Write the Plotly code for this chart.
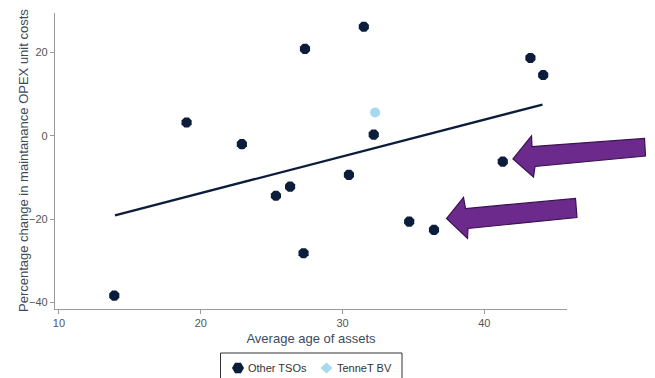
import plotly.graph_objects as go

# Average age of assets (years) and % change in maintenance OPEX unit costs
other_age = [13.9, 19.0, 22.9, 27.35, 25.3, 26.3, 27.25, 31.5, 32.2, 30.45,
             41.3, 43.25, 44.15, 34.7, 36.45]
other_chg = [-38.4, 3.2, -2.0, 20.9, -14.4, -12.2, -28.2, 26.2, 0.3, -9.4,
             -6.2, 18.7, 14.6, -20.6, -22.6]

tennet_age = [32.3]
tennet_chg = [5.6]

# Linear trend line end points
fit_age = [13.95, 44.1]
fit_chg = [-19.1, 7.5]

x_ticks = [10, 20, 30, 40]
y_ticks = [-40, -20, 0, 20]

legend_names = ["Other TSOs", "TenneT BV"]

W, H = 655, 378
ML, MR, MT, MB = 55, 88, 13, 69
PW, PH = W - ML - MR, H - MT - MB

NAVY = "#0b1d3a"
LIGHT = "#a6d8f2"
GREY_AXIS = "#9a9a9a"
TITLE_C = "#3d4a5c"
FONT = "Liberation Sans, Arial"


def px_x(px):
    return (px - ML) / PW


def px_y(py):
    return (H - MB - py) / PH


def poly_path(pts):
    return "M " + " L ".join(f"{px_x(x):.4f},{px_y(y):.4f}" for x, y in pts) + " Z"


# Callout arrows (pixel outlines: tip, head top, shaft top-left, shaft top-right,
# shaft bottom-right, shaft bottom-left, head bottom)
arrow_a = [(513, 159), (531.5, 136), (532, 146.5), (644.5, 138.5),
           (645.5, 156), (535, 166.5), (533.5, 177)]
arrow_b = [(446.5, 218.5), (463.5, 197.5), (465.5, 208.5), (575.5, 198.5),
           (577, 217.5), (468, 228.5), (467.5, 238.5)]

fig = go.Figure()

fig.add_trace(go.Scatter(
    x=fit_age, y=fit_chg, mode="lines",
    line=dict(color=NAVY, width=2.3),
    showlegend=False, hoverinfo="skip",
))
fig.add_trace(go.Scatter(
    x=other_age, y=other_chg, mode="markers", name=legend_names[0],
    marker=dict(symbol="octagon", size=11, color=NAVY, line=dict(width=0)),
    showlegend=False,
))
fig.add_trace(go.Scatter(
    x=tennet_age, y=tennet_chg, mode="markers", name=legend_names[1],
    marker=dict(symbol="circle", size=10, color=LIGHT, line=dict(width=0)),
    showlegend=False,
))

for pts in (arrow_a, arrow_b):
    fig.add_shape(
        type="path", path=poly_path(pts), xref="paper", yref="paper",
        fillcolor="#6b2a8c", line=dict(color="#3b1250", width=1.2),
        layer="above",
    )

# Legend box below the chart
fig.add_shape(
    type="rect", xref="paper", yref="paper",
    x0=px_x(220.5), x1=px_x(402), y0=px_y(392), y1=px_y(353),
    line=dict(color="#333333", width=1), fillcolor="white", layer="above",
)
ly = 368
hx, dx = 238, 326.5
hexagon = [(hx - 6, ly), (hx - 3, ly - 5.2), (hx + 3, ly - 5.2),
           (hx + 6, ly), (hx + 3, ly + 5.2), (hx - 3, ly + 5.2)]
diamond = [(dx - 6, ly), (dx, ly - 5.5), (dx + 6, ly), (dx, ly + 5.5)]
fig.add_shape(type="path", path=poly_path(hexagon), xref="paper", yref="paper",
              fillcolor=NAVY, line=dict(width=0), layer="above")
fig.add_shape(type="path", path=poly_path(diamond), xref="paper", yref="paper",
              fillcolor=LIGHT, line=dict(width=0), layer="above")
for name, tx in zip(legend_names, (245.5, 335)):
    fig.add_annotation(
        text=name, xref="paper", yref="paper", x=px_x(tx), y=px_y(ly),
        xanchor="left", yanchor="middle", showarrow=False,
        font=dict(family=FONT, size=11, color="#333333"),
    )

# Vertical axis title
fig.add_annotation(
    text="Percentage change in maintanance OPEX unit costs",
    xref="paper", yref="paper", x=px_x(23), y=px_y(161),
    xanchor="center", yanchor="middle", textangle=-90, showarrow=False,
    font=dict(family=FONT, size=13, color=TITLE_C),
)

axis_common = dict(
    showgrid=False, zeroline=False, showline=True, linecolor=GREY_AXIS,
    linewidth=1.2, ticks="outside", ticklen=4, tickcolor=GREY_AXIS,
    tickfont=dict(family=FONT, size=11, color="#555555"),
)

fig.update_layout(
    width=W, height=H,
    margin=dict(l=ML, r=MR, t=MT, b=MB, autoexpand=False),
    paper_bgcolor="white", plot_bgcolor="white",
    font=dict(family=FONT, color=TITLE_C),
    showlegend=False,
    xaxis=dict(
        range=[9.72, 45.83], tickvals=x_ticks, automargin=False, **axis_common,
        title=dict(text="Average age of assets", standoff=5,
                   font=dict(size=13, color=TITLE_C)),
    ),
    yaxis=dict(
        range=[-41.6, 29.5], tickvals=y_ticks, automargin=False, **axis_common,
    ),
)

fig.write_html("out.html")
